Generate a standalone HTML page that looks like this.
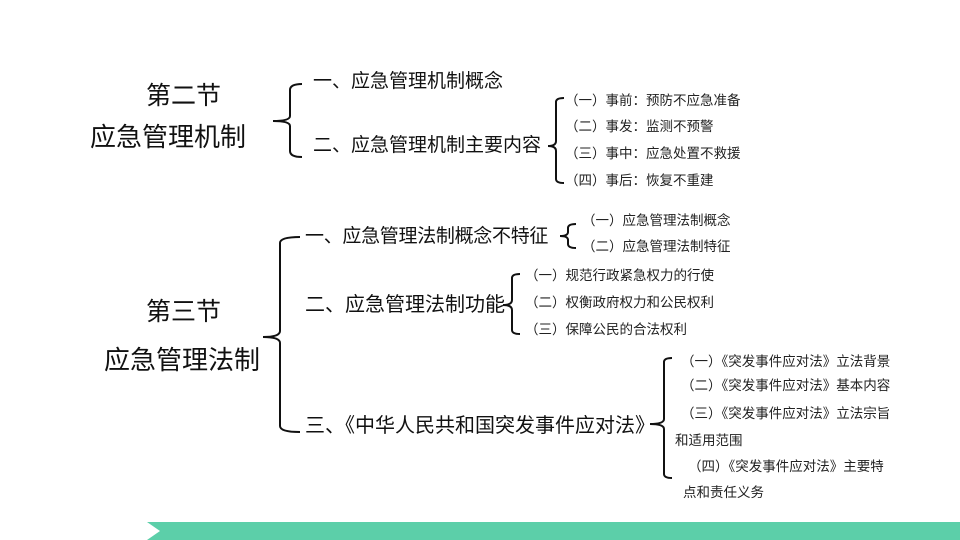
<!DOCTYPE html>
<html><head><meta charset="utf-8"><style>
body{margin:0;width:960px;height:540px;background:#fff;position:relative;overflow:hidden;font-family:"Liberation Sans","Noto Sans CJK SC",sans-serif;color:#111}
.t{position:absolute;white-space:nowrap;line-height:1}
.h{font-size:25px}
.a{font-size:19px}
.b{font-size:13.5px;color:#222}
</style></head><body>
<svg width="960" height="540" style="position:absolute;left:0;top:0">
<g fill="none" stroke="#111" stroke-width="2">
<path d="M302,84 Q290,84 290,90 L290,116 Q290,121 273,121 Q290,121 290,126 L290,151 Q290,157 302,157"/>
<path d="M564,98 Q556,98 556,102 L556,141 Q556,146 548,146 Q556,146 556,151 L556,179 Q556,183 564,183"/>
<path d="M300,237 Q280,237 280,243 L280,331 Q280,337 263,337 Q280,337 280,343 L280,426 Q280,432 300,432"/>
<path d="M576,224 Q568,224 568,228 L568,232 Q568,236 560,236 Q568,236 568,240 L568,244 Q568,248 576,248"/>
<path d="M520,274 Q512,274 512,278 L512,300 Q512,305 503,305 Q512,305 512,310 L512,330 Q512,334 520,334"/>
<path d="M672,358 Q664,358 664,362 L664,419 Q664,424 650,424 Q664,424 664,429 L664,474 Q664,478 672,478"/>
</g>
</svg>
<div class="t h" style="left:146px;top:84px">第二节</div>
<div class="t h" style="left:90px;top:124px;font-size:26px">应急管理机制</div>
<div class="t h" style="left:146px;top:300px">第三节</div>
<div class="t h" style="left:104px;top:347px;font-size:26px">应急管理法制</div>

<div class="t a" style="left:313px;top:72px">一、应急管理机制概念</div>
<div class="t a" style="left:313px;top:136px">二、应急管理机制主要内容</div>
<div class="t b" style="left:565px;top:94px">（一）事前：预防不应急准备</div>
<div class="t b" style="left:565px;top:120px">（二）事发：监测不预警</div>
<div class="t b" style="left:565px;top:147px">（三）事中：应急处置不救援</div>
<div class="t b" style="left:565px;top:174px">（四）事后：恢复不重建</div>

<div class="t a" style="left:305px;top:227px;font-size:19px;letter-spacing:-0.3px">一、应急管理法制概念不特征</div>
<div class="t b" style="left:582px;top:214px">（一）应急管理法制概念</div>
<div class="t b" style="left:582px;top:240px">（二）应急管理法制特征</div>

<div class="t a" style="left:305px;top:295px;font-size:20px">二、应急管理法制功能</div>
<div class="t b" style="left:525px;top:269px">（一）规范行政紧急权力的行使</div>
<div class="t b" style="left:525px;top:296px">（二）权衡政府权力和公民权利</div>
<div class="t b" style="left:525px;top:323px">（三）保障公民的合法权利</div>

<div class="t a" style="left:305px;top:416px;font-size:20px">三、《中华人民共和国突发事件应对法》</div>
<div class="t b" style="left:681px;top:355px">（一）《突发事件应对法》立法背景</div>
<div class="t b" style="left:681px;top:379px">（二）《突发事件应对法》基本内容</div>
<div class="t b" style="left:681px;top:407px">（三）《突发事件应对法》立法宗旨</div>
<div class="t b" style="left:675px;top:434px">和适用范围</div>
<div class="t b" style="left:688px;top:460px">（四）《突发事件应对法》主要特</div>
<div class="t b" style="left:683px;top:486px">点和责任义务</div>

<div style="position:absolute;left:147px;top:522px;width:813px;height:18px;background:#5ccfa9"></div>
<div style="position:absolute;left:147px;top:522px;width:0;height:0;border-top:9px solid transparent;border-bottom:9px solid transparent;border-left:13px solid #fff"></div>
</body></html>
